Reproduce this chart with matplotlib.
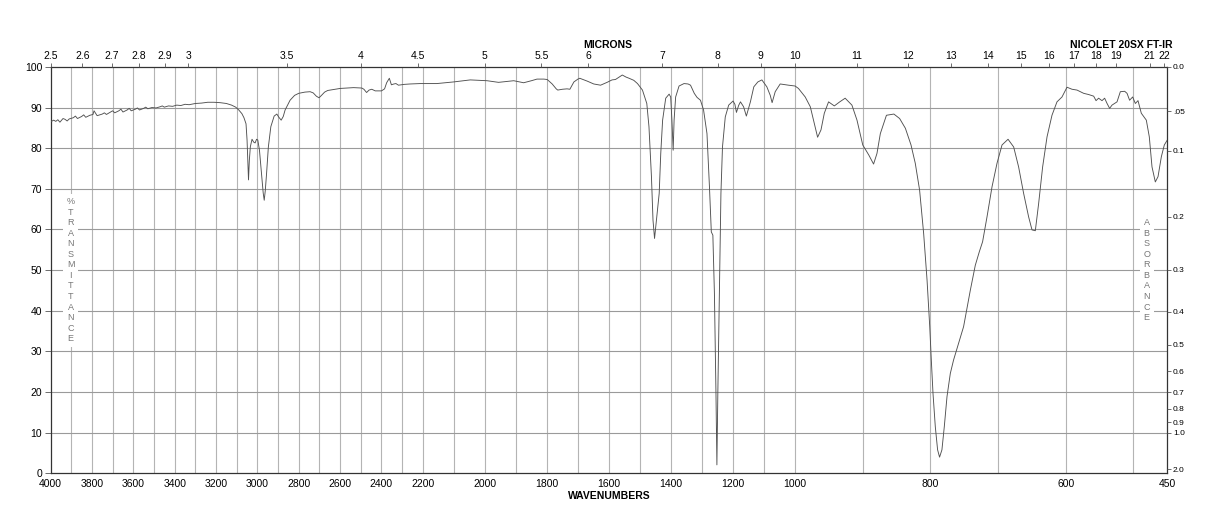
import numpy as np
import matplotlib
matplotlib.use("Agg")
import matplotlib.pyplot as plt

plt.rcParams['font.family'] = ['Liberation Sans', 'DejaVu Sans']

# spectrum (cm-1, %T)
wavenumber = [
    4000, 3985, 3975, 3965, 3955, 3940, 3930, 3920, 3910, 3890, 3880, 3870,
    3850, 3840, 3830, 3810, 3795, 3790, 3775, 3750, 3740, 3730, 3710, 3700,
    3690, 3670, 3660, 3650, 3630, 3620, 3610, 3590, 3580, 3570, 3550, 3540,
    3530, 3510, 3490, 3470, 3460, 3450, 3430, 3410, 3390, 3370, 3350, 3330,
    3300, 3270, 3240, 3210, 3180, 3150, 3125, 3105, 3090, 3075, 3065, 3055,
    3050, 3046, 3043, 3039, 3034, 3026, 3018, 3011, 3004, 2998, 2990, 2980,
    2972, 2967, 2962, 2956, 2947, 2935, 2919, 2906, 2896, 2885, 2875, 2866,
    2842, 2820, 2800, 2770, 2745, 2730, 2715, 2702, 2690, 2675, 2660, 2600,
    2535, 2495, 2485, 2472, 2460, 2447, 2430, 2400, 2385, 2375, 2362, 2352,
    2340, 2330, 2318, 2290, 2261, 2213, 2155, 2101, 2047, 1993, 1956, 1907,
    1875, 1850, 1832, 1810, 1799, 1790, 1783, 1770, 1765, 1750, 1735, 1726,
    1713, 1700, 1694, 1680, 1670, 1649, 1627, 1606, 1590, 1579, 1557, 1545,
    1535, 1520, 1508, 1492, 1478, 1471, 1463, 1458, 1453, 1447, 1438, 1433,
    1427, 1417, 1406, 1401, 1397, 1393, 1390, 1385, 1374, 1358, 1345, 1337,
    1325, 1316, 1305, 1295, 1284, 1276, 1270, 1265, 1260, 1255, 1252, 1249,
    1244, 1239, 1234, 1225, 1214, 1200, 1194, 1189, 1182, 1176, 1166, 1157,
    1144, 1133, 1120, 1107, 1091, 1080, 1074, 1064, 1048, 1021, 1000, 995,
    985, 977.5, 972.7, 966.7, 961.7, 956.8, 950.5, 942, 934, 926, 916, 908.5,
    900, 891, 884, 879, 874, 865, 854, 845.5, 837, 828.7, 822.4, 816, 810,
    805, 801, 798.7, 796.2, 792.8, 789.4, 786.5, 783, 779.5, 775.5, 770.6,
    765.8, 758.4, 751, 741, 733.7, 727.8, 722.9, 716.4, 709, 701.6, 694.2,
    685.3, 677, 669.7, 662.3, 654.9, 649.9, 645, 640.1, 634.2, 627.7, 620.4,
    613, 605.6, 598.2, 590.8, 583.4, 578.5, 573.6, 566.2, 558.8, 555.3, 551.5,
    546.5, 542.6, 539, 535.2, 531.7, 524.3, 519.4, 513, 509.5, 505.7, 501.2,
    497.2, 493.3, 488.4, 481, 476.6, 472.6, 467.7, 463.7, 458.8, 454.4, 450,
]
transmittance = [
    86.5, 86.9, 86.6, 87.0, 86.4, 87.3, 87.1, 86.7, 87.2, 87.5, 87.9, 87.3,
    87.8, 88.2, 87.6, 88.1, 88.3, 89.2, 88.0, 88.4, 88.7, 88.3, 88.9, 89.2,
    88.7, 89.2, 89.6, 88.9, 89.4, 89.8, 89.2, 89.6, 89.9, 89.4, 89.8, 90.1,
    89.7, 90.0, 89.9, 90.2, 90.4, 90.1, 90.4, 90.3, 90.6, 90.5, 90.8, 90.7,
    91.0, 91.1, 91.3, 91.3, 91.2, 91.0, 90.6, 90.1, 89.4, 88.5, 87.5, 86.0,
    82.0, 76.0, 72.2, 77.0, 80.4, 82.2, 81.5, 81.3, 82.2, 82.0, 79.5, 73.5,
    69.0, 67.2, 69.5, 73.5, 80.3, 85.3, 87.9, 88.4, 87.6, 86.9, 87.8, 89.4,
    91.8, 93.0, 93.5, 93.8, 93.9, 93.6, 92.8, 92.4, 93.0, 93.8, 94.2, 94.7,
    94.9, 94.8, 94.5, 93.7, 94.3, 94.5, 94.1, 94.1, 94.6, 96.1, 97.2, 95.6,
    95.8, 95.9, 95.5, 95.7, 95.8, 95.9, 95.9, 96.3, 96.8, 96.6, 96.2, 96.6,
    96.1, 96.6, 97.0, 97.0, 96.9, 96.3, 95.8, 94.6, 94.3, 94.5, 94.6, 94.5,
    96.3, 97.0, 97.2, 96.8, 96.5, 95.8, 95.5, 96.2, 96.8, 96.9, 98.0, 97.5,
    97.2, 96.7, 95.9, 94.3, 91.0, 85.3, 73.0, 62.3, 57.8, 62.3, 68.9, 78.7,
    86.9, 92.3, 93.3, 92.6, 86.9, 79.5, 86.9, 92.6, 95.3, 95.9, 95.8, 95.5,
    93.5, 92.5, 91.8, 89.4, 83.6, 70.5, 59.4, 58.6, 44.3, 19.7, 2.1, 19.7,
    44.3, 68.9, 80.3, 87.7, 90.6, 91.6, 90.8, 88.8, 90.5, 91.4, 90.2, 87.9,
    91.4, 95.1, 96.3, 96.8, 95.1, 93.0, 91.2, 93.9, 95.8, 95.5, 95.3, 94.7,
    92.6, 90.2, 86.9, 82.7, 84.5, 88.6, 91.4, 90.4, 91.4, 92.3, 90.6, 86.9,
    80.8, 78.3, 76.1, 78.7, 83.6, 88.1, 88.4, 87.3, 84.9, 80.8, 76.3, 69.7, 59.0,
    47.6, 36.1, 27.9, 19.7, 11.5, 5.8, 4.0, 5.8, 11.5, 18.9, 24.6,
    27.9, 32.0, 36.1, 45.1, 51.2, 54.5, 57.0, 63.1, 70.5, 76.3, 80.8,
    82.2, 80.3, 75.4, 68.9, 63.1, 59.9, 59.7, 66.4, 75.4, 82.8, 88.1,
    91.4, 92.6, 95.0, 94.5, 94.3, 93.9, 93.5, 93.2, 92.8, 91.7, 92.3,
    91.7, 92.3, 91.0, 89.8, 90.6, 91.4, 93.9, 94.0, 93.5, 91.8, 92.6,
    91.0, 91.7, 88.6, 86.9, 82.8, 75.4, 71.7, 73.0, 77.9, 80.8, 82.0,
]

bottom_ticks = [4000, 3800, 3600, 3400, 3200, 3000, 2800, 2600, 2400, 2200,
                2000, 1800, 1600, 1400, 1200, 1000, 800, 600, 450]
micron_ticks = [2.5, 2.6, 2.7, 2.8, 2.9, 3, 3.5, 4, 4.5, 5, 5.5, 6, 7, 8, 9,
                10, 11, 12, 13, 14, 15, 16, 17, 18, 19, 21, 22]
absorbance_ticks = [0.0, 0.05, 0.1, 0.2, 0.3, 0.4, 0.5, 0.6, 0.7, 0.8, 0.9, 1.0, 2.0]
absorbance_labels = ['0.0', '.05', '0.1', '0.2', '0.3', '0.4', '0.5', '0.6',
                     '0.7', '0.8', '0.9', '1.0', '2.0']


# chart paper: three equal-width panels, 4000-2200, 2200-1000, 1000-450
def fwd(w):
    w = np.asarray(w, dtype=float)
    return np.where(w < 1000, (w - 450) / 550.0,
                    np.where(w < 2200, 1 + (w - 1000) / 1200.0,
                             2 + (w - 2200) / 1800.0))


def inv(u):
    u = np.asarray(u, dtype=float)
    return np.where(u < 1, 450 + u * 550.0,
                    np.where(u < 2, 1000 + (u - 1) * 1200.0,
                             2200 + (u - 2) * 1800.0))


fig = plt.figure(figsize=(12.18, 5.28), dpi=100)
ax = fig.add_axes([50.6 / 1218, (528 - 473.4) / 528, 1116.7 / 1218, 406.5 / 528])
ax.set_xscale('function', functions=(fwd, inv))
ax.set_xlim(4000, 450)
ax.set_ylim(0, 100)

# grid
for g in range(500, 4000, 100):
    ax.axvline(g, color='#b4b4b4', lw=0.8, zorder=1)
for g in range(10, 100, 10):
    ax.axhline(g, color='#9a9a9a', lw=0.8, zorder=1)

ax.plot(wavenumber, transmittance, color='#505050', lw=0.65, zorder=3)

ax.set_xticks(bottom_ticks)
ax.set_xticklabels([str(t) for t in bottom_ticks], fontsize=7.5)
ax.minorticks_off()
ax.tick_params(axis='x', length=0, pad=4)
ax.set_yticks(range(0, 101, 10))
ax.tick_params(axis='y', length=4, width=0.6, labelsize=7.5, pad=2, color='#555555')
for s in ax.spines.values():
    s.set_color('#333333')
    s.set_linewidth(0.9)

# top: microns
axt = ax.twiny()
axt.set_xscale('function', functions=(fwd, inv))
axt.set_xlim(4000, 450)
axt.set_xticks([1e4 / m for m in micron_ticks])
axt.set_xticklabels(['%g' % m for m in micron_ticks], fontsize=7.5)
axt.minorticks_off()
axt.tick_params(axis='x', length=3, width=0.6, pad=1, color='#555555')

# right: absorbance
axr = ax.twinx()
axr.set_ylim(0, 100)
axr.set_yticks([100 * 10 ** (-a) for a in absorbance_ticks])
axr.set_yticklabels(absorbance_labels, fontsize=6)
axr.tick_params(axis='y', length=3, width=0.6, pad=1, color='#555555')
for a in (axt, axr):
    for s in a.spines.values():
        s.set_visible(False)

fig.text(608 / 1218, 1 - 45 / 528, 'MICRONS', fontsize=7.5, weight='bold',
         ha='center', va='center')
fig.text(1121 / 1218, 1 - 45 / 528, 'NICOLET 20SX FT-IR', fontsize=7.5,
         weight='bold', ha='center', va='center')
fig.text(609 / 1218, 1 - 496 / 528, 'WAVENUMBERS', fontsize=7.5, weight='bold',
         ha='center', va='center')

box = dict(facecolor='white', edgecolor='none', pad=2.5)
ax.text(0.018, 0.5, '\n'.join('%TRANSMITTANCE'), transform=ax.transAxes,
        fontsize=6.5, color='#777777', ha='center', va='center', linespacing=1.22,
        bbox=box, zorder=4)
ax.text(0.9815, 0.5, '\n'.join('ABSORBANCE'), transform=ax.transAxes,
        fontsize=6.5, color='#777777', ha='center', va='center', linespacing=1.22,
        bbox=box, zorder=4)

fig.savefig('out.png', dpi=100)
